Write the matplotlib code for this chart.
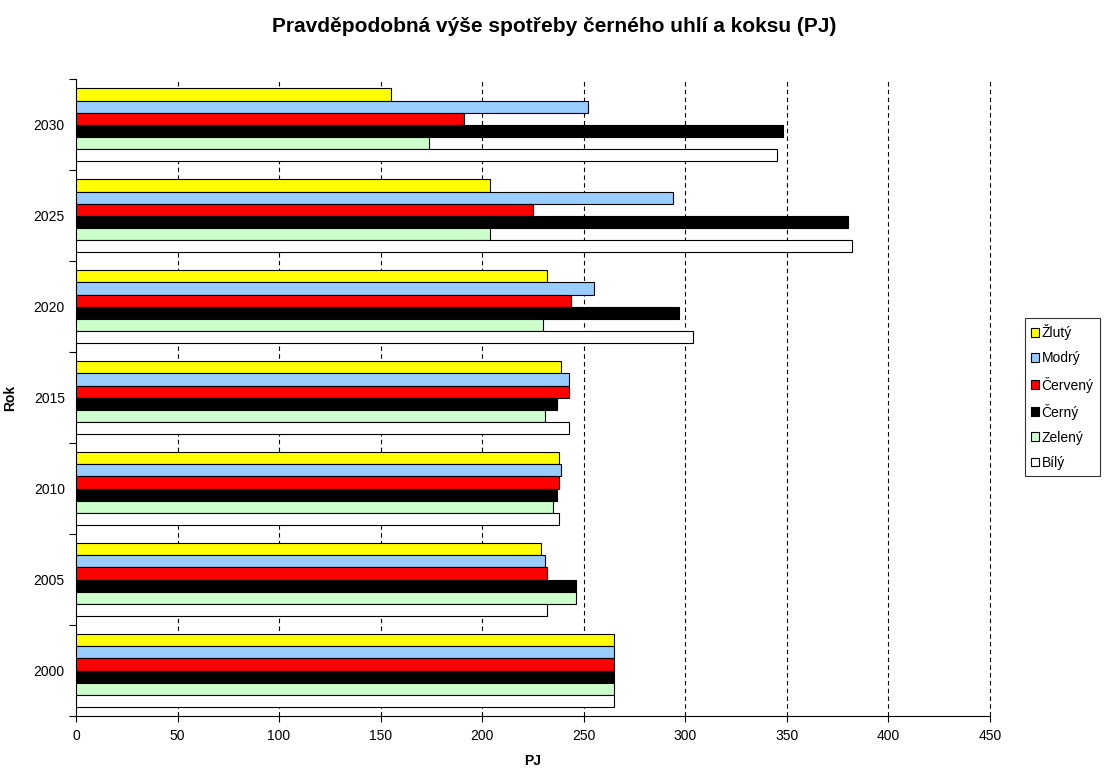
import matplotlib.pyplot as plt
import numpy as np
from matplotlib.patches import Patch

plt.rcParams["font.family"] = ["Liberation Sans", "DejaVu Sans"]

years = ["2000", "2005", "2010", "2015", "2020", "2025", "2030"]
series_names = ["Žlutý", "Modrý", "Červený", "Černý", "Zelený", "Bílý"]
series_colors = ["#ffff00", "#99ccff", "#ff0000", "#000000", "#ccffcc", "#ffffff"]

zluty = [265, 229, 238, 239, 232, 204, 155]
modry = [265, 231, 239, 243, 255, 294, 252]
cerveny = [265, 232, 238, 243, 244, 225, 191]
cerny = [265, 246, 237, 237, 297, 380, 348]
zeleny = [265, 246, 235, 231, 230, 204, 174]
bily = [265, 232, 238, 243, 304, 382, 345]

x_ticks = [0, 50, 100, 150, 200, 250, 300, 350, 400, 450]


def main() -> None:
    values = [zluty, modry, cerveny, cerny, zeleny, bily]
    n = len(values)
    bar_h = 0.8 / n
    y = np.arange(len(years))

    fig = plt.figure(figsize=(11.09, 7.68), dpi=100)
    ax = fig.add_axes([0.0685, 0.0677, 0.824, 0.829])

    for i, (vals, color) in enumerate(zip(values, series_colors)):
        offset = (n / 2 - 0.5 - i) * bar_h
        ax.barh(y + offset, vals, height=bar_h, color=color, edgecolor="black",
                linewidth=0.8, zorder=3)

    ax.set_xlim(0, 450)
    ax.set_ylim(-0.5, len(years) - 0.5)
    ax.set_xticks(x_ticks)
    ax.set_xticklabels([str(t) for t in x_ticks], fontsize=10)
    ax.set_yticks(y)
    ax.set_yticklabels(years, fontsize=10)
    ax.tick_params(axis="y", length=0, pad=8)
    ax.set_yticks(np.arange(len(years) + 1) - 0.5, minor=True)
    ax.tick_params(axis="y", which="minor", length=5, width=0.8)
    ax.tick_params(axis="x", length=4, width=0.8, pad=5)

    # dashed vertical gridlines, the last one sits on the plot edge
    for t in x_ticks[1:]:
        ax.axvline(t, color="black", linestyle=(0, (4, 3)), linewidth=0.8,
                   zorder=1, clip_on=False)

    for side in ["top", "right"]:
        ax.spines[side].set_visible(False)
    ax.spines["left"].set_linewidth(0.8)
    ax.spines["bottom"].set_linewidth(0.8)

    ax.set_xlabel("PJ", fontsize=10, fontweight="bold", labelpad=8)
    ax.set_ylabel("Rok", fontsize=10, fontweight="bold", labelpad=12)
    fig.text(0.5, 0.965, "Pravděpodobná výše spotřeby černého uhlí a koksu (PJ)",
             fontsize=15, fontweight="bold", ha="center", va="center")

    handles = [Patch(facecolor=c, edgecolor="black", linewidth=0.8) for c in series_colors]
    leg = fig.legend(handles, series_names, loc="center left",
                     bbox_to_anchor=(0.924, 0.483), fontsize=10, frameon=True,
                     fancybox=False, edgecolor="black", handlelength=0.6,
                     handleheight=0.6, handletextpad=0.15, labelspacing=0.8,
                     borderpad=0.45, borderaxespad=0)
    leg.get_frame().set_linewidth(0.8)

    fig.savefig("out.png", dpi=100)
    plt.close(fig)


if __name__ == "__main__":
    main()
